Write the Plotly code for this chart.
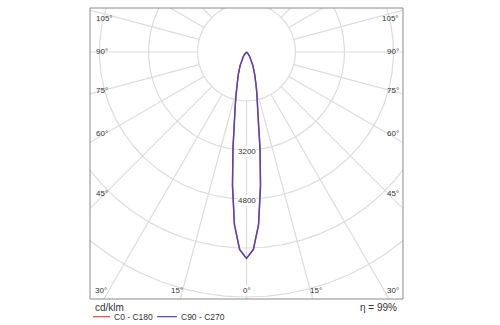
import numpy as np
import plotly.graph_objects as go

# Luminous intensity (cd/klm) against angle from nadir, symmetric in each plane
gamma_deg = [0, 2, 4, 6, 8, 10, 12, 14, 16, 18, 20, 25, 30, 35, 40, 45, 50, 60, 90]
c0_c180 = [6740, 6450, 5650, 4380, 3170, 2200, 1760, 1400, 1140, 940, 780, 500, 310, 180, 90, 35, 0, 0, 0]
c90_c270 = [6740, 6450, 5650, 4380, 3170, 2200, 1760, 1400, 1140, 940, 780, 500, 310, 180, 90, 35, 0, 0, 0]
plane_names = ["C0 - C180", "C90 - C270"]
plane_colors = ["#e04848", "#4b44c6"]

ring_values = [1600, 3200, 4800, 6400, 8000, 9600]
ring_labels = [3200, 4800]
angle_ticks = [0, 15, 30, 45, 60, 75, 90, 105]
unit_label = "cd/klm"
efficiency_pct = 99

# ---- page geometry (pixels) ----
W, H = 500, 325
BOX_L, BOX_R, BOX_T, BOX_B = 90, 403, 8, 299
CX, CY = 246.5, 52.0          # pole of the diagram
PX_PER_UNIT = 49.0 / 1600.0   # ring spacing on screen

x_range = [(BOX_L - CX) / PX_PER_UNIT, (BOX_R - CX) / PX_PER_UNIT]
y_range = [-(BOX_B - CY) / PX_PER_UNIT, (CY - BOX_T) / PX_PER_UNIT]


def to_xy(angle_deg, value):
    a = np.radians(np.asarray(angle_deg, dtype=float))
    v = np.asarray(value, dtype=float)
    return v * np.sin(a), -v * np.cos(a)


def paper_x(px):
    return (px - BOX_L) / (BOX_R - BOX_L)


def paper_y(py):
    return (BOX_B - py) / (BOX_B - BOX_T)


GRID = "#dcdcdc"
TEXT = "#333333"
FONT = "Liberation Sans"

fig = go.Figure()

# concentric intensity rings
t = np.linspace(0, 360, 721)
rx, ry = [], []
for r in ring_values:
    x, y = to_xy(t, np.full_like(t, r))
    rx += list(x) + [None]
    ry += list(y) + [None]
fig.add_trace(go.Scatter(x=rx, y=ry, mode="lines", line=dict(color=GRID, width=1.2),
                         hoverinfo="skip", showlegend=False))

# radial spokes every 15 degrees, starting at the first ring
sx, sy = [], []
for a in range(0, 360, 15):
    x, y = to_xy([a, a], [ring_values[0], 20000])
    sx += list(x) + [None]
    sy += list(y) + [None]
fig.add_trace(go.Scatter(x=sx, y=sy, mode="lines", line=dict(color=GRID, width=1.2),
                         hoverinfo="skip", showlegend=False))

# intensity curves, mirrored to both halves of each plane
for name, vals, col in zip(plane_names, [c0_c180, c90_c270], plane_colors):
    ang = [-g for g in gamma_deg[::-1]] + gamma_deg[1:]
    val = vals[::-1] + vals[1:]
    x, y = to_xy(ang, val)
    fig.add_trace(go.Scatter(x=x, y=y, mode="lines", name=name,
                             line=dict(color=col, width=1.4),
                             hoverinfo="skip", showlegend=False))

ann = []
# ring value labels on the nadir axis
for v in ring_labels:
    ann.append(dict(x=0, y=-v, xref="x", yref="y", text=str(v), showarrow=False,
                    xanchor="center", yanchor="middle",
                    font=dict(family=FONT, size=8, color=TEXT), bgcolor="white",
                    borderpad=0, yshift=-1.5))

# angle labels along the frame
side_y = {105: 18.3, 90: 51.7, 75: 90.0, 60: 133.0, 45: 193.0}
for a, py in side_y.items():
    for side in (-1, 1):
        ann.append(dict(x=0 if side < 0 else 1, y=paper_y(py), xref="paper", yref="paper",
                        text=f"{a}°", showarrow=False,
                        xanchor="left" if side < 0 else "right", yanchor="middle",
                        xshift=3.5 if side < 0 else -2.5,
                        font=dict(family=FONT, size=8, color=TEXT)))
bottom_x = {0: 246.6, 15: 176.7, 30: 100.5}
for a, px in bottom_x.items():
    sides = (1,) if a == 0 else (-1, 1)
    for side in sides:
        ppx = CX + side * (px - CX)
        ann.append(dict(x=paper_x(ppx), y=paper_y(290.0), xref="paper", yref="paper",
                        text=f"{a}°", showarrow=False, xanchor="center", yanchor="middle",
                        bgcolor="white" if a == 0 else None, borderpad=0,
                        font=dict(family=FONT, size=8, color=TEXT)))

# footer: unit, legend and efficiency
ann.append(dict(x=paper_x(92.5), y=paper_y(307.5), xref="paper", yref="paper", text=unit_label,
                showarrow=False, xanchor="left", yanchor="middle",
                font=dict(family=FONT, size=10, color=TEXT)))
ann.append(dict(x=paper_x(398.5), y=paper_y(307.5), xref="paper", yref="paper",
                text=f"η = {efficiency_pct}%", showarrow=False, xanchor="right", yanchor="middle",
                font=dict(family=FONT, size=10, color=TEXT)))
legend_pos = [(93, 110, 112), (157, 177, 178.5)]
shapes = []
for (x0, x1, xt), name, col in zip(legend_pos, plane_names, plane_colors):
    shapes.append(dict(type="line", xref="paper", yref="paper",
                       x0=paper_x(x0), x1=paper_x(x1), y0=paper_y(316.7), y1=paper_y(316.7),
                       line=dict(color=col, width=1.2)))
    ann.append(dict(x=paper_x(xt), y=paper_y(316.7), xref="paper", yref="paper", text=name,
                    showarrow=False, xanchor="left", yanchor="middle",
                    font=dict(family=FONT, size=8.5, color=TEXT)))

# frame
shapes.append(dict(type="rect", xref="paper", yref="paper", x0=0, x1=1, y0=0, y1=1,
                   line=dict(color="#8c8c8c", width=1), layer="above"))

fig.update_layout(
    width=W, height=H,
    margin=dict(l=BOX_L, r=W - BOX_R, t=BOX_T, b=H - BOX_B, pad=0),
    paper_bgcolor="white", plot_bgcolor="white",
    xaxis=dict(range=x_range, visible=False, fixedrange=True),
    yaxis=dict(range=y_range, visible=False, fixedrange=True),
    annotations=ann, shapes=shapes, showlegend=False,
)

fig.write_html("out.html")
